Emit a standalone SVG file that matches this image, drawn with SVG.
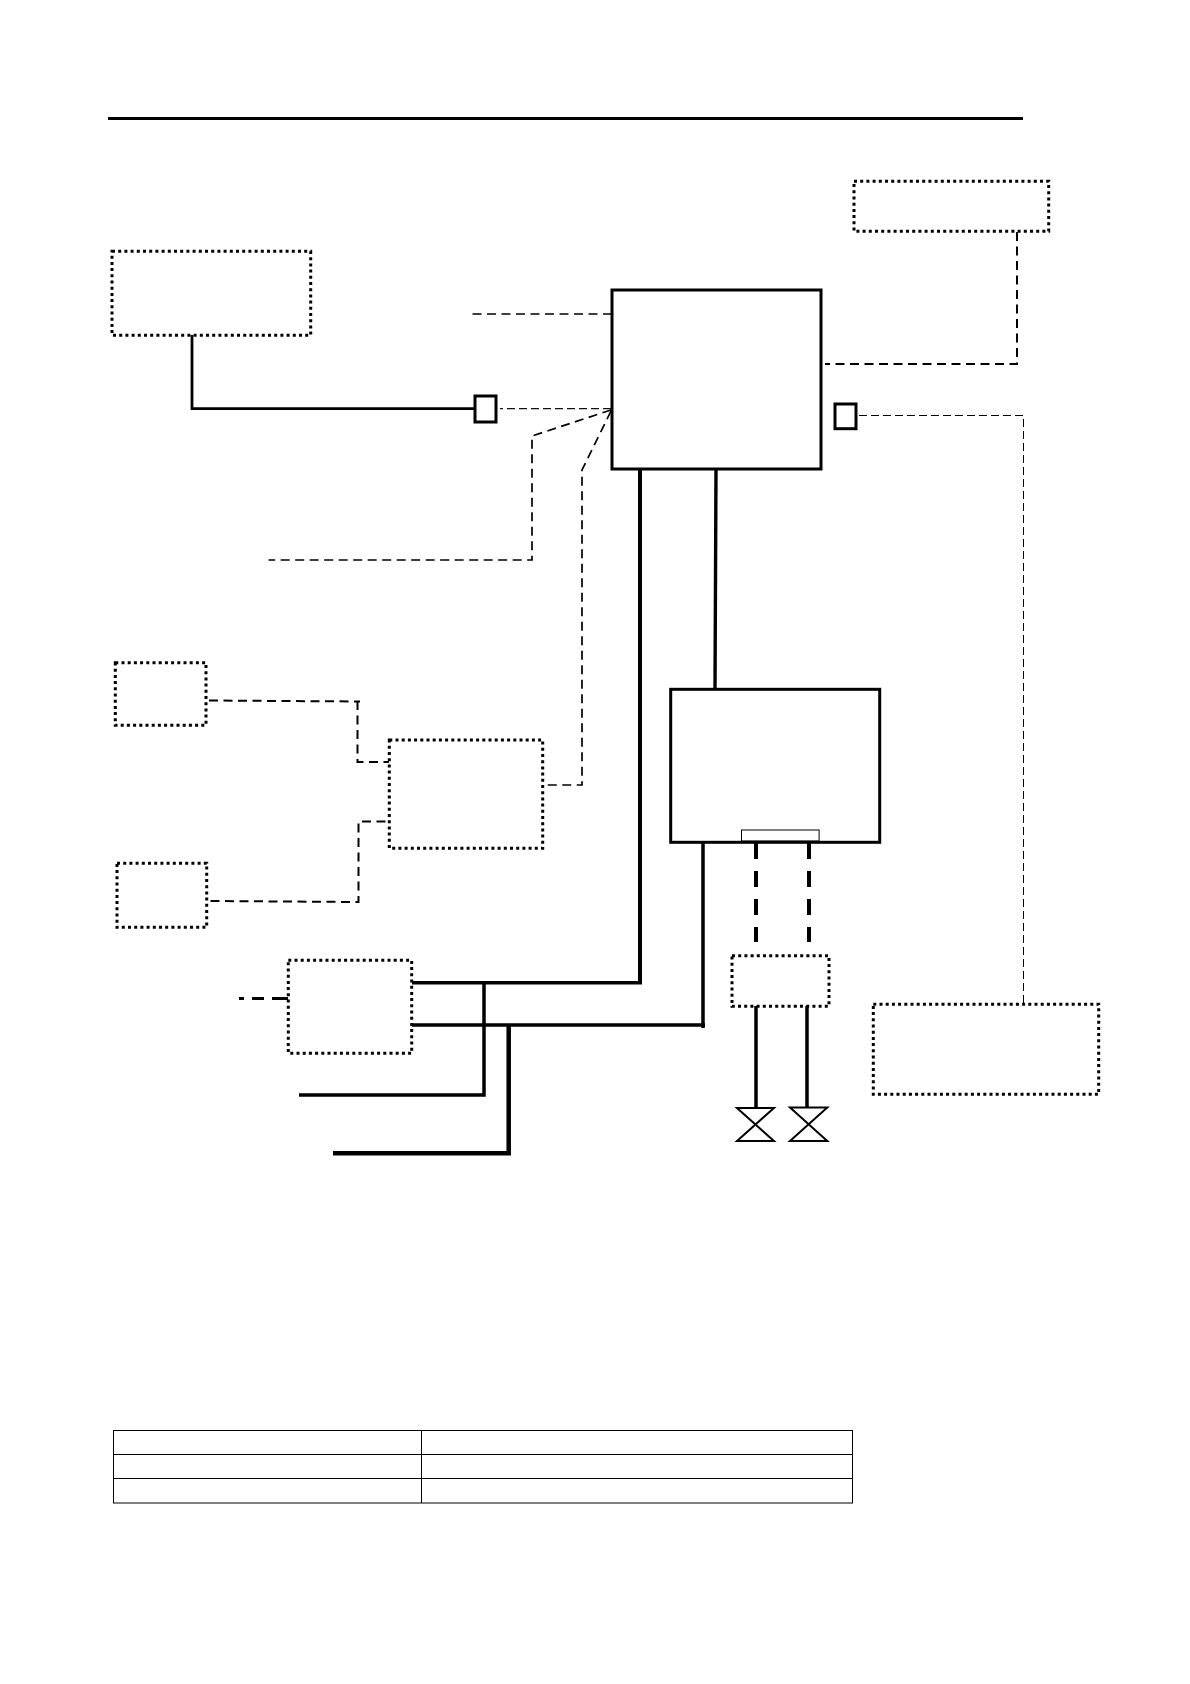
<svg xmlns="http://www.w3.org/2000/svg" width="1190" height="1684" viewBox="0 0 1190 1684">
<style>
.bg{fill:#fff}
.solidbox{fill:#fff;stroke:#000;stroke-width:3}
.dotbox{fill:none;stroke:#000;stroke-width:3;stroke-dasharray:3 3.2}
.line{fill:none;stroke:#000;stroke-linejoin:miter}
.dash{fill:none;stroke:#000;stroke-width:2;stroke-dasharray:9 5.5}
.dashfine{fill:none;stroke:#000;stroke-width:1.7;stroke-dasharray:9 5.5}
.dashthin{fill:none;stroke:#111;stroke-width:1.3;stroke-dasharray:8 4}
.thick{fill:none;stroke:#000;stroke-width:4;stroke-dasharray:16 12}
.valve{fill:#fff;stroke:#000;stroke-width:2;stroke-linejoin:miter}
.cell{fill:none;stroke:#000;stroke-width:1}
</style>
<rect class="bg" width="1190" height="1684"/>
<line id="top-rule" class="line" x1="108" y1="118.5" x2="1023" y2="118.5" stroke-width="3"/>
<g id="connectors">
<path class="line" stroke-width="2.8" d="M192 335V408.7H475"/>
<path class="dashfine" d="M612 314H468"/>
<path class="dashthin" d="M611 408.7H500"/>
<path class="dashfine" d="M611 410L532 436V560H268.6"/>
<path class="dashfine" d="M611 411L582 470V785H543"/>
<path class="dash" d="M1017 232V364H825"/>
<path class="dashthin" style="stroke-width:1;stroke:#000" d="M859 415.5H1023.5V1003"/>
<path class="dash" d="M209 700.5L360 701.5M357.5 701V762H389"/>
<path class="dash" d="M210.5 901L358.5 902V821.5H389"/>
<path class="line" stroke-width="3" stroke-dasharray="5 8 12 8 12 0" d="M239 998.5H288"/>
<path class="line" stroke-width="4" d="M640 469V983"/>
<path class="line" stroke-width="3.5" d="M412 982.7H642"/>
<path class="line" stroke-width="3.5" d="M412 1025H705M703 842V1028"/>
<path class="line" stroke-width="3.4" d="M716 469L715 689"/>
<path class="line" stroke-width="3.5" d="M484 983V1095H299"/>
<path class="line" stroke-width="4.5" d="M508.7 1025V1153.3H333"/>
<path class="thick" d="M756 843V942"/>
<path class="thick" d="M809 843V942"/>
<path class="line" stroke-width="3.5" d="M756 1006V1108"/>
<path class="line" stroke-width="3.5" d="M807 1006V1108"/>
</g>
<g id="node-main"><rect class="solidbox" x="612" y="290" width="209" height="179"/></g>
<g id="node-unit"><rect class="solidbox" x="670.7" y="689.3" width="209" height="153"/><rect class="cell" x="741.5" y="830" width="77.6" height="11"/></g>
<g id="node-top-right"><rect class="dotbox" x="854" y="181.3" width="194.7" height="50"/></g>
<g id="node-top-left"><rect class="dotbox" x="112" y="251.3" width="198.7" height="84"/></g>
<g id="node-sensor-left"><rect class="solidbox" x="475" y="396" width="21" height="26"/></g>
<g id="node-sensor-right"><rect class="solidbox" x="835" y="404" width="21" height="24.7"/></g>
<g id="node-a"><rect class="dotbox" x="115.3" y="662.7" width="90.7" height="62.6"/></g>
<g id="node-b"><rect class="dotbox" x="117" y="863.3" width="89.7" height="64"/></g>
<g id="node-c"><rect class="dotbox" x="389.3" y="740" width="153.4" height="108.3"/></g>
<g id="node-d"><rect class="dotbox" x="288.3" y="960.3" width="123.4" height="93"/></g>
<g id="node-f"><rect class="dotbox" x="732" y="955.7" width="97" height="50.6"/></g>
<g id="node-g"><rect class="dotbox" x="873.3" y="1004.3" width="225.4" height="90"/></g>
<g id="valve-1"><path class="valve" d="M737 1108H774L737 1141H774Z"/></g>
<g id="valve-2"><path class="valve" d="M790 1107.5H827.3L790 1141H827.3Z"/></g>
<g id="table">
<rect class="cell" x="113.5" y="1430.5" width="739" height="72.5"/>
<path class="cell" d="M113.5 1454.5H852.5M113.5 1478.5H852.5M421.5 1430.5V1503"/>
</g>
</svg>
